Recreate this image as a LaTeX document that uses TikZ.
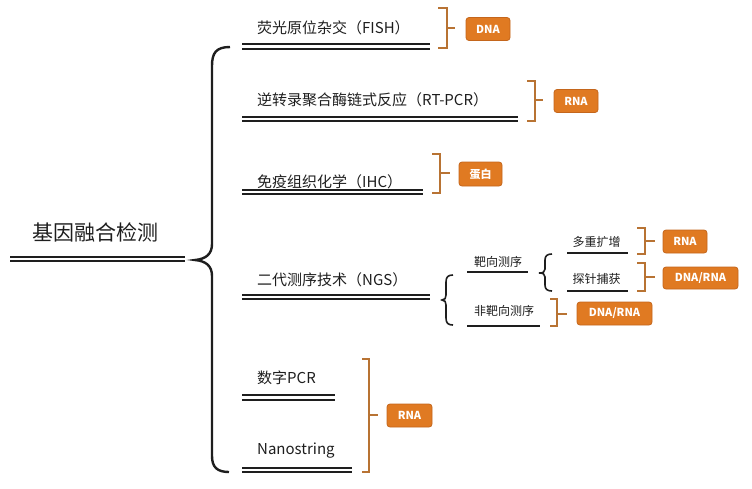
\documentclass[tikz,border=0pt]{standalone}
\usepackage{fontspec}
\newfontfamily\cjk{Noto Sans CJK SC}

\definecolor{txt}{HTML}{1E1E1E}
\definecolor{tagfill}{HTML}{E07A22}
\definecolor{tagdraw}{HTML}{C4661C}
\definecolor{brk}{HTML}{B87333}

\begin{document}
\begin{tikzpicture}[x=1pt,y=-1pt,
    root/.style={font=\cjk\fontsize{21}{24}\selectfont, text=txt, inner sep=0pt},
    item/.style={font=\cjk\fontsize{15}{18}\selectfont, text=txt, anchor=west, inner sep=0pt},
    subitem/.style={font=\cjk\fontsize{12}{14}\selectfont, text=txt, inner sep=0pt},
    uline/.style={draw=txt, double, double distance=2.2pt, line width=2.1pt},
    sline/.style={draw=txt, line width=1.4pt},
    brace/.style={draw=txt, line width=2.4pt},
    sbrace/.style={draw=txt, line width=1.6pt},
    bracket/.style={draw=brk, line width=1.4pt},
    tag/.style={rounded corners=3pt, fill=tagfill, draw=tagdraw, line width=0.8pt,
        text=white, font=\cjk\bfseries\fontsize{11}{13}\selectfont,
        minimum height=23pt, inner sep=0pt}]
        \useasboundingbox (0,0) rectangle (752,488);
        % Root and big brace
        \node (fusion) [root] at (95,232) {基因融合检测};
        \draw [uline] (10,259) -- (185,259);
        \draw [brace] (230,47) .. controls (216,47) and (212,53) .. (212,66) -- (212,244)
                .. controls (212,254) and (206,259) .. (195,260)
                .. controls (206,261) and (212,266) .. (212,276) -- (212,456)
                .. controls (212,467) and (217,472) .. (229,472);
        % FISH
        \node (fish) [item] at (257,28) {荧光原位杂交（FISH）};
        \draw [uline] (242,46.5) -- (430,46.5);
        \draw [bracket] (438,8) -- (447,8) -- (447,48) -- (438,48) (447,28) -- (455,28);
        \node (fishdna) [tag, minimum width=44pt] at (488,29) {DNA};
        % RT-PCR
        \node (rtpcr) [item] at (257,100) {逆转录聚合酶链式反应（RT-PCR）};
        \draw [uline] (242,119) -- (518,119);
        \draw [bracket] (527,81) -- (535,81) -- (535,121) -- (527,121) (535,100) -- (543,100);
        \node (rtrna) [tag, minimum width=44pt] at (576,101) {RNA};
        % IHC
        \node (ihc) [item] at (257,182) {免疫组织化学（IHC）};
        \draw [uline] (242,192) -- (423,192);
        \draw [bracket] (432,154) -- (440,154) -- (440,193) -- (432,193) (440,173) -- (450,173);
        \node (ihcprot) [tag, minimum width=43pt, minimum height=24pt] at (480.5,174) {蛋白};
        % NGS
        \node (ngs) [item] at (257,280) {二代测序技术（NGS）};
        \draw [uline] (242,297) -- (430,297);
        \draw [sbrace] (453,275) .. controls (448,275) and (446,277) .. (446,282) -- (446,295)
                .. controls (446,298) and (445,300) .. (442,300)
                .. controls (445,300) and (446,302) .. (446,305) -- (446,318)
                .. controls (446,323) and (448,325) .. (453,325);
        \node (target) [subitem] at (498,262) {靶向测序};
        \draw [sline] (467,272) -- (528,272);
        \node (untarget) [subitem] at (504,311) {非靶向测序};
        \draw [sline] (467,326) -- (540,326);
        \draw [sbrace] (552,254) .. controls (547,254) and (545,256) .. (545,260) -- (545,269)
                .. controls (545,272) and (543,273) .. (539,273)
                .. controls (543,273) and (545,274) .. (545,277) -- (545,285)
                .. controls (545,289) and (547,291) .. (552,291);
        \node (multiplex) [subitem] at (596.5,242) {多重扩增};
        \draw [sline] (567,253) -- (628,253);
        \node (capture) [subitem] at (596.5,279) {探针捕获};
        \draw [sline] (567,291) -- (628,291);
        \draw [bracket] (637,228) -- (645,228) -- (645,254) -- (637,254) (645,241) -- (655,241);
        \node (multirna) [tag, minimum width=44pt] at (685,241.5) {RNA};
        \draw [bracket] (637,263) -- (645,263) -- (645,291) -- (637,291) (645,277) -- (655,277);
        \node (captna) [tag, minimum width=75pt, minimum height=22pt] at (700.5,278) {DNA/RNA};
        \draw [bracket] (550,299) -- (557,299) -- (557,326) -- (550,326) (557,314) -- (567,314);
        \node (untna) [tag, minimum width=75pt] at (614.5,313.5) {DNA/RNA};
        % Digital PCR and Nanostring
        \node (dpcr) [item] at (257,378) {数字PCR};
        \draw [uline] (242,397.5) -- (335,397.5);
        \node (nano) [item] at (257,451) {Nanostring};
        \draw [uline] (242,470) -- (352,470);
        \draw [bracket] (362,359) -- (369,359) -- (369,472) -- (362,472) (369,415) -- (378,415);
        \node (lowrna) [tag, minimum width=45pt] at (409.5,415.5) {RNA};
\end{tikzpicture}
\end{document}
